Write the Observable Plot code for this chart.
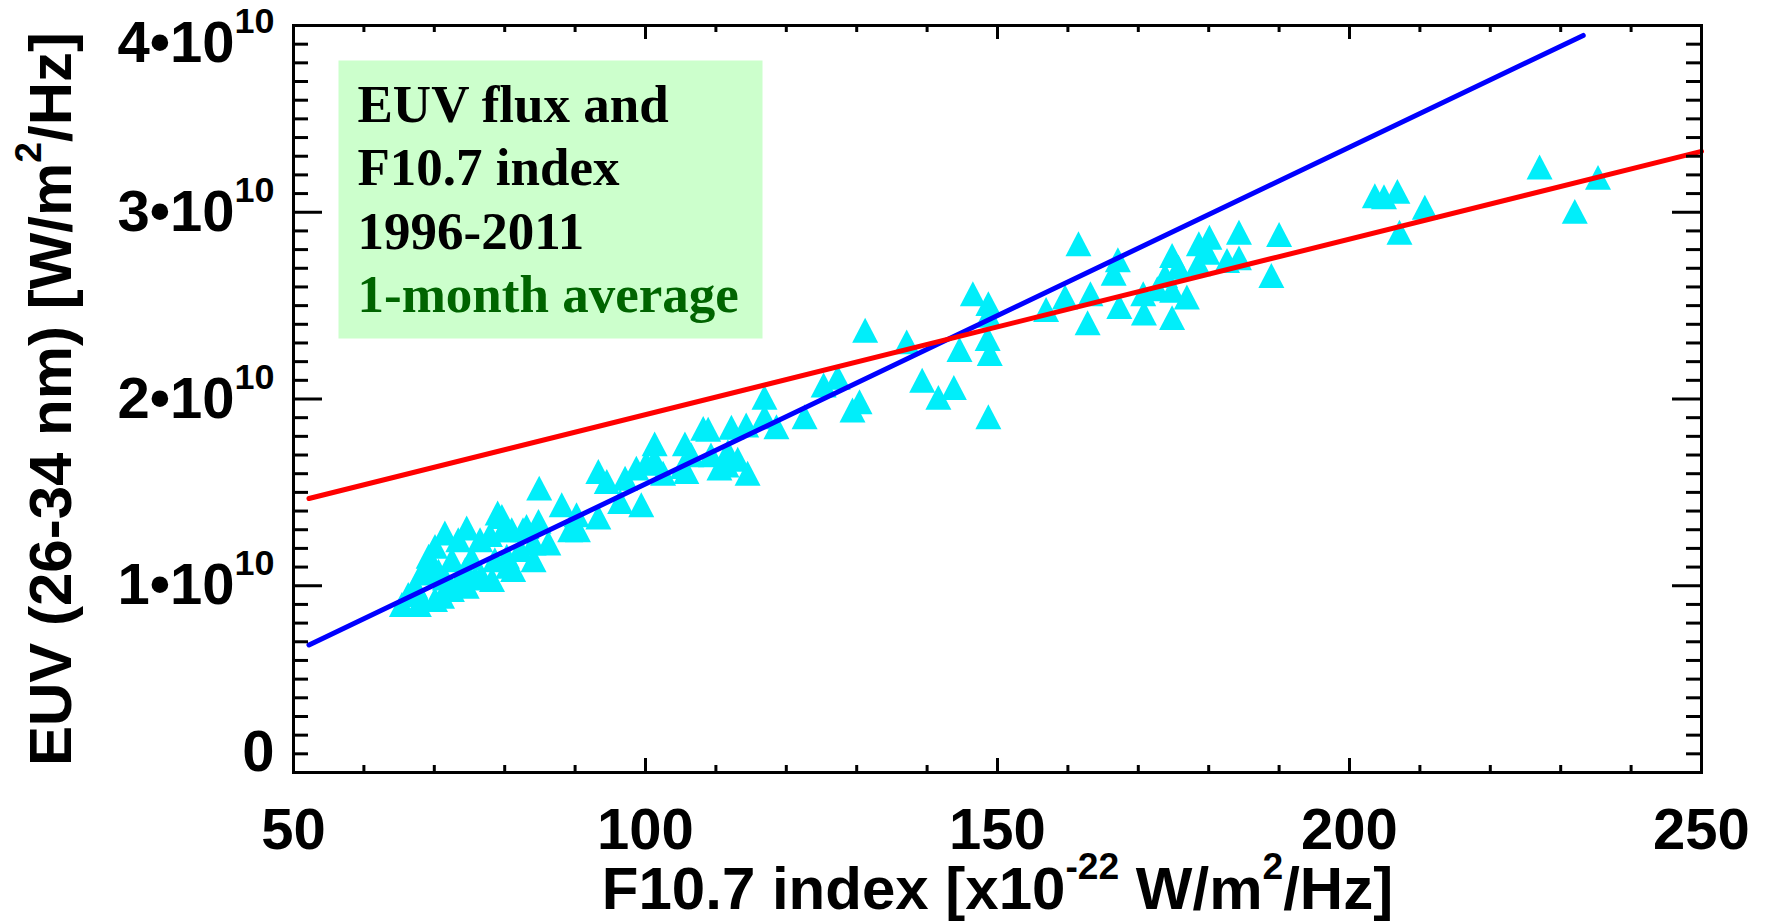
<!DOCTYPE html>
<html><head><meta charset="utf-8">
<script src="https://cdn.jsdelivr.net/npm/d3@7"></script>
<script src="https://cdn.jsdelivr.net/npm/@observablehq/plot@0.6"></script>
<style>
html,body{margin:0;padding:0;background:#fff;}
#chart{width:1765px;height:922px;}
</style></head><body><div id="chart"></div>
<script>
// F10.7 index (x10^-22 W/m^2/Hz)
const f107 = [
  203.6,204.9,206.8,210.7,207.1,227.0,232.0,235.3,
  161.5,167.1,166.5,156.9,159.6,163.2,162.8,167.3,170.7,170.8,174.8,173.8,175.7,174.8,172.7,176.9,174.8,178.6,180.1,179.8,178.5,182.6,184.3,184.3,190.0,188.9,
  131.2,137.1,146.5,148.7,148.7,148.6,148.9,144.6,139.3,141.6,143.8,148.7,125.3,127.3,130.4,129.4,
  116.9,116.9,122.6,118.6,108.2,108.9,112.2,114.3,101.3,105.6,106.5,109.3,111.7,113.1,110.5,105.8,102.5,114.5,101.3,111.5,105.3,111.0,
  84.9,93.3,88.1,90.2,93.3,89.3,90.4,97.1,98.7,100.1,96.4,99.4,94.5,81.0,83.1,84.8,86.2,84.1,82.2,79.6,80.3,81.2,84.1,82.6,79.8,
  79.0,71.5,74.6,73.4,70.1,76.5,77.9,69.2,69.0,72.5,75.3,78.6,80.5,70.6,74.4,76.7,78.2,67.3,66.3,68.2,70.1,65.4,72.5,74.6,71.5,68.2,67.8,71.1,73.4,75.8
];
// EUV flux 26-34 nm, in units of 1e10 W/m^2/Hz
const euv = [
  3.086,3.080,3.109,3.024,2.890,3.240,3.002,3.184,
  2.828,2.743,2.671,2.476,2.543,2.561,2.406,2.493,2.561,2.458,2.766,2.659,2.703,2.579,2.588,2.543,2.433,2.828,2.863,2.783,2.721,2.739,2.890,2.753,2.878,2.659,
  2.365,2.303,2.561,2.508,2.445,2.321,2.241,2.262,2.098,2.006,2.059,1.902,2.072,2.113,1.982,1.938,
  2.006,1.902,1.902,1.849,1.840,1.835,1.846,1.858,1.757,1.757,1.698,1.698,1.715,1.675,1.627,1.609,1.600,1.600,1.671,1.644,1.635,1.653,
  1.520,1.609,1.431,1.377,1.365,1.297,1.297,1.573,1.627,1.653,1.448,1.431,1.555,1.297,1.315,1.342,1.226,1.226,1.191,1.368,1.155,1.084,1.137,1.297,1.297,
  1.387,1.280,1.306,1.244,1.208,1.244,1.271,1.155,1.111,1.137,1.146,1.137,1.101,1.075,1.084,1.048,1.030,0.995,0.950,0.924,0.924,0.897,0.977,0.995,1.039,1.066,0.897,0.941,1.013,1.039
];
// Fit lines (end points)
const blueLineX = [52.2, 233.2];
const blueLineY = [0.683, 3.947];
const redLineX = [52.2, 250];
const redLineY = [1.467, 3.326];

const xMajor = [50, 100, 150, 200, 250];
const yMajor = [0, 1e10, 2e10, 3e10, 4e10];
const xMinor = d3.range(50, 251, 10);
const yMinor = d3.range(0, 4e10 + 1, 1e9);

const legendLines = ["EUV flux and", "F10.7 index", "1996-2011"];
const legendNote = "1-month average";
const xTitle = "F10.7 index [x10^{-22} W/m^{2}/Hz]";
const yTitle = "EUV (26-34 nm) [W/m^{2}/Hz]";

const points = f107.map((x, i) => ({x, y: euv[i] * 1e10}));
const blue = blueLineX.map((x, i) => ({x, y: blueLineY[i] * 1e10}));
const red = redLineX.map((x, i) => ({x, y: redLineY[i] * 1e10}));

const W = 1765, H = 922, mL = 293, mR = 64, mT = 25, mB = 150;
const fw = W - mL - mR, fh = H - mT - mB;

const tri = {
  draw(ctx, size) {
    const r = Math.sqrt(size / Math.PI);
    ctx.moveTo(0, -r);
    ctx.lineTo(r, r * 0.92);
    ctx.lineTo(-r, r * 0.92);
    ctx.closePath();
  }
};

const fmtY = d => d === 0 ? "0" : `${Math.round(d / 1e10)}•10^{10}`;
const sans = "Liberation Sans, Arial, Helvetica, sans-serif";
const serif = "Liberation Serif, Times New Roman, serif";

const yLabelAxis = (ticks, dy) => Plot.axisY({
  ticks, anchor: "left", tickSize: 0, tickPadding: 19, tickFormat: fmtY,
  fontSize: 58, fontWeight: "bold", fontFamily: sans, label: null, dy, fill: "black"
});

const chart = Plot.plot({
  width: W, height: H,
  marginLeft: mL, marginRight: mR, marginTop: mT, marginBottom: mB,
  x: {domain: [50, 250]},
  y: {domain: [0, 4e10]},
  style: {background: "white", fontFamily: sans, color: "black"},
  marks: [
    Plot.frame({fill: "#ccffcc", stroke: null, insetLeft: 45, insetTop: 35, insetRight: 939, insetBottom: 434}),
    Plot.dot(points, {x: "x", y: "y", symbol: tri, r: 13, fill: "#00eefa", stroke: null}),
    Plot.line(blue, {x: "x", y: "y", stroke: "#0000ff", strokeWidth: 5}),
    Plot.line(red, {x: "x", y: "y", stroke: "#ff0000", strokeWidth: 5}),
    // x ticks bottom & top
    Plot.tickX(xMinor.filter(d => !xMajor.includes(d)), {x: d => d, insetTop: fh - 7, stroke: "black", strokeWidth: 3}),
    Plot.tickX(xMajor, {x: d => d, insetTop: fh - 14, stroke: "black", strokeWidth: 3}),
    Plot.tickX(xMinor.filter(d => !xMajor.includes(d)), {x: d => d, insetBottom: fh - 7, stroke: "black", strokeWidth: 3}),
    Plot.tickX(xMajor, {x: d => d, insetBottom: fh - 14, stroke: "black", strokeWidth: 3}),
    // y ticks left & right
    Plot.tickY(yMinor.filter(d => d % 1e10 !== 0), {y: d => d, insetRight: fw - 15, stroke: "black", strokeWidth: 3}),
    Plot.tickY(yMajor, {y: d => d, insetRight: fw - 29, stroke: "black", strokeWidth: 3}),
    Plot.tickY(yMinor.filter(d => d % 1e10 !== 0), {y: d => d, insetLeft: fw - 15, stroke: "black", strokeWidth: 3}),
    Plot.tickY(yMajor, {y: d => d, insetLeft: fw - 29, stroke: "black", strokeWidth: 3}),
    Plot.frame({stroke: "black", strokeWidth: 3}),
    // tick labels
    Plot.axisX({ticks: xMajor, anchor: "bottom", tickSize: 0, tickPadding: 35, fontSize: 58, fontWeight: "bold", fontFamily: sans, label: null, fill: "black"}),
    yLabelAxis(yMajor.filter(d => d > 0 && d < 4e10), 0),
    yLabelAxis([0], -20),
    yLabelAxis([4e10], 18),
    // titles
    Plot.text([xTitle], {text: d => d, frameAnchor: "bottom", dy: 117, textAnchor: "middle", lineAnchor: "middle", fontSize: 60, fontWeight: "bold", fontFamily: sans, fill: "black"}),
    Plot.text([yTitle], {text: d => d, frameAnchor: "left", dx: -242, rotate: -90, textAnchor: "middle", lineAnchor: "middle", fontSize: 60, fontWeight: "bold", fontFamily: sans, fill: "black"}),
    // legend text
    Plot.text([legendLines.join("\n")], {text: d => d, frameAnchor: "top-left", dx: 64, dy: 51, lineAnchor: "top", lineHeight: 1.2, textAnchor: "start", fontSize: 53, fontWeight: "bold", fontFamily: serif, fill: "black"}),
    Plot.text([legendNote], {text: d => d, frameAnchor: "top-left", dx: 64, dy: 249, lineAnchor: "top", textAnchor: "start", fontSize: 53, fontWeight: "bold", fontFamily: serif, fill: "#006400"})
  ]
});

document.getElementById("chart").appendChild(chart);

// superscript post-processing: turn ^{...} into raised tspans
const NS = "http://www.w3.org/2000/svg";
chart.querySelectorAll("text").forEach(t => {
  if (!t.textContent.includes("^{")) return;
  const fs = parseFloat(getComputedStyle(t).fontSize) || 50;
  const supSize = fs * 0.62;
  const rise = fs * 0.5;
  const parts = t.textContent.split(/\^\{([^}]*)\}/);
  t.textContent = "";
  let raised = false;
  parts.forEach((p, i) => {
    if (!p) return;
    const ts = document.createElementNS(NS, "tspan");
    ts.textContent = p;
    if (i % 2 === 1) {
      ts.setAttribute("font-size", supSize);
      if (!raised) { ts.setAttribute("dy", -rise); raised = true; }
    } else if (raised) {
      ts.setAttribute("dy", rise); raised = false;
    }
    t.appendChild(ts);
  });
});
</script>
</body></html>
